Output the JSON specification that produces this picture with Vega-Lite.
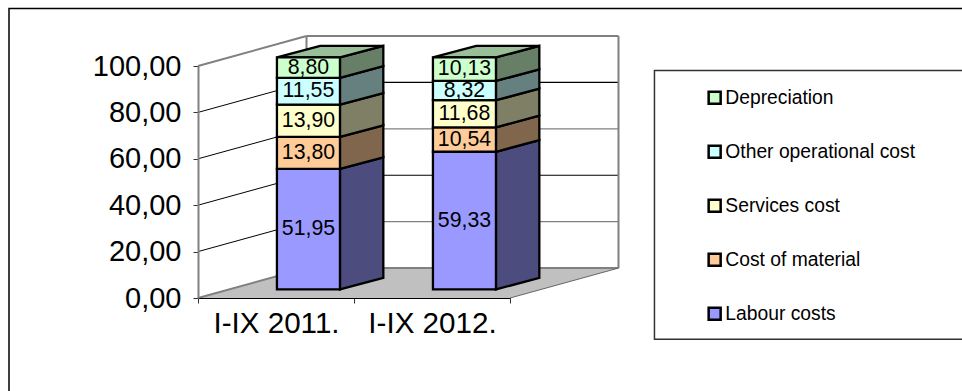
{
  "$schema": "https://vega.github.io/schema/vega-lite/v6.json",
  "width": 312,
  "height": 232,
  "autosize": {"type": "none"},
  "padding": {"left": 198, "top": 66, "right": 452, "bottom": 93},
  "background": "#ffffff",
  "params": [
    {"name": "dx", "value": 0.6955},
    {"name": "dy", "value": 12.9},
    {"name": "lift", "value": 3.7},
    {"name": "barLeft", "value": 0.506},
    {"name": "barRight", "value": 0.91},
    {"name": "barDepthX", "value": 0.278},
    {"name": "barDepthY", "value": 5}
  ],
  "config": {
    "view": {"stroke": null},
    "font": "Liberation Sans",
    "text": {"font": "Liberation Sans"}
  },
  "datasets": {
    "costs": [
      {"period": "I-IX 2011.", "cost": "Labour costs", "value": 51.95},
      {"period": "I-IX 2011.", "cost": "Cost of material", "value": 13.8},
      {"period": "I-IX 2011.", "cost": "Services cost", "value": 13.9},
      {"period": "I-IX 2011.", "cost": "Other operational cost", "value": 11.55},
      {"period": "I-IX 2011.", "cost": "Depreciation", "value": 8.8},
      {"period": "I-IX 2012.", "cost": "Labour costs", "value": 59.33},
      {"period": "I-IX 2012.", "cost": "Cost of material", "value": 10.54},
      {"period": "I-IX 2012.", "cost": "Services cost", "value": 11.68},
      {"period": "I-IX 2012.", "cost": "Other operational cost", "value": 8.32},
      {"period": "I-IX 2012.", "cost": "Depreciation", "value": 10.13}
    ],
    "levels": [
      {"level": 0}, {"level": 20}, {"level": 40}, {"level": 60}, {"level": 80}, {"level": 100}
    ]
  },
  "layer": [
    {
      "description": "Outer chart frame, running past the right and bottom of the window",
      "data": {"values": [{"part": "frame"}]},
      "mark": {"type": "rect", "filled": false, "stroke": "#000000", "strokeWidth": 1.5},
      "encoding": {
        "x": {"datum": -1.2115, "type": "quantitative", "scale": {"domain": [0, 2], "nice": false, "zero": false}},
        "x2": {"datum": 6},
        "y": {"datum": 124.8, "type": "quantitative", "scale": {"domain": [0, 100], "nice": false, "zero": false}},
        "y2": {"datum": -60}
      }
    },
    {
      "description": "Legend panel",
      "data": {"values": [{"part": "legend panel"}]},
      "mark": {"type": "rect", "fill": "#ffffff", "stroke": "#333333", "strokeWidth": 1.5},
      "encoding": {
        "x": {"datum": 2.926, "type": "quantitative", "scale": {"domain": [0, 2], "nice": false, "zero": false}},
        "x2": {"datum": 6},
        "y": {"datum": 98.06, "type": "quantitative", "scale": {"domain": [0, 100], "nice": false, "zero": false}},
        "y2": {"datum": -17.8}
      }
    },
    {
      "description": "Chart floor",
      "data": {"values": [{"edge": 0}, {"edge": 1}]},
      "transform": [
        {"calculate": "datum.edge * dx", "as": "x0"},
        {"calculate": "2 + datum.edge * dx", "as": "x1"},
        {"calculate": "datum.edge * dy", "as": "yy"}
      ],
      "mark": {"type": "area", "orient": "horizontal", "fill": "#c0c0c0"},
      "encoding": {
        "x": {"field": "x0", "type": "quantitative", "scale": {"domain": [0, 2], "nice": false, "zero": false}},
        "x2": {"field": "x1"},
        "y": {"field": "yy", "type": "quantitative", "scale": {"domain": [0, 100], "nice": false, "zero": false}}
      }
    },
    {
      "description": "Value gridlines receding along the side wall",
      "data": {"name": "levels"},
      "transform": [
        {"calculate": "0", "as": "x0"},
        {"calculate": "dx", "as": "x1"},
        {"calculate": "datum.level + dy", "as": "yBack"}
      ],
      "mark": {"type": "rule"},
      "encoding": {
        "x": {"field": "x0", "type": "quantitative", "scale": {"domain": [0, 2], "nice": false, "zero": false}},
        "x2": {"field": "x1"},
        "y": {"field": "level", "type": "quantitative", "scale": {"domain": [0, 100], "nice": false, "zero": false}},
        "y2": {"field": "yBack"},
        "stroke": {"condition": {"test": "datum.level % 100 === 0", "value": "#808080"}, "value": "#000000"},
        "strokeWidth": {"condition": {"test": "datum.level % 100 === 0", "value": 2}, "value": 1}
      }
    },
    {
      "description": "Value gridlines across the back wall; alternate lines print lighter",
      "data": {"name": "levels"},
      "transform": [
        {"calculate": "dx", "as": "x0"},
        {"calculate": "2 + dx", "as": "x1"},
        {"calculate": "datum.level + dy", "as": "yBack"}
      ],
      "mark": {"type": "rule"},
      "encoding": {
        "x": {"field": "x0", "type": "quantitative", "scale": {"domain": [0, 2], "nice": false, "zero": false}},
        "x2": {"field": "x1"},
        "y": {"field": "yBack", "type": "quantitative", "scale": {"domain": [0, 100], "nice": false, "zero": false}},
        "stroke": {"condition": {"test": "datum.level % 100 === 0 || datum.level % 40 === 20", "value": "#808080"}, "value": "#000000"},
        "strokeWidth": {"condition": {"test": "datum.level % 100 === 0", "value": 2}, "value": 1.2}
      }
    },
    {
      "description": "Vertical corners of the back wall",
      "data": {"values": [{"corner": 0}, {"corner": 1}]},
      "transform": [
        {"calculate": "dx + 2 * datum.corner", "as": "x0"},
        {"calculate": "dy", "as": "y0"},
        {"calculate": "100 + dy", "as": "y1"}
      ],
      "mark": {"type": "rule", "stroke": "#808080", "strokeWidth": 2},
      "encoding": {
        "x": {"field": "x0", "type": "quantitative", "scale": {"domain": [0, 2], "nice": false, "zero": false}},
        "y": {"field": "y0", "type": "quantitative", "scale": {"domain": [0, 100], "nice": false, "zero": false}},
        "y2": {"field": "y1"}
      }
    },
    {
      "description": "Right edge of the floor",
      "data": {"values": [{"part": "floor edge"}]},
      "transform": [
        {"calculate": "2", "as": "x0"},
        {"calculate": "2 + dx", "as": "x1"},
        {"calculate": "0", "as": "y0"},
        {"calculate": "dy", "as": "y1"}
      ],
      "mark": {"type": "rule", "stroke": "#666666", "strokeWidth": 1},
      "encoding": {
        "x": {"field": "x0", "type": "quantitative", "scale": {"domain": [0, 2], "nice": false, "zero": false}},
        "x2": {"field": "x1"},
        "y": {"field": "y0", "type": "quantitative", "scale": {"domain": [0, 100], "nice": false, "zero": false}},
        "y2": {"field": "y1"}
      }
    },
    {
      "description": "Side faces of the stacked segments",
      "data": {"name": "costs"},
      "transform": [
        {"calculate": "indexof(['Labour costs','Cost of material','Services cost','Other operational cost','Depreciation'], datum.cost)", "as": "rank"},
        {"stack": "value", "groupby": ["period"], "sort": [{"field": "rank"}], "as": ["s0", "s1"]},
        {"calculate": "indexof(['I-IX 2011.','I-IX 2012.'], datum.period)", "as": "slot"},
        {"calculate": "[0, 1]", "as": "d"},
        {"flatten": ["d"]},
        {"calculate": "datum.slot + barRight + datum.d * barDepthX", "as": "fx"},
        {"calculate": "datum.s0 + lift + datum.d * barDepthY", "as": "fy0"},
        {"calculate": "datum.s1 + lift + datum.d * barDepthY", "as": "fy1"}
      ],
      "layer": [
        {
          "mark": {"type": "area", "orient": "vertical", "stroke": "#000000", "strokeWidth": 2.3, "strokeJoin": "miter"},
          "encoding": {
            "x": {"field": "fx", "type": "quantitative", "scale": {"domain": [0, 2], "nice": false, "zero": false}},
            "y": {"field": "fy0", "type": "quantitative", "scale": {"domain": [0, 100], "nice": false, "zero": false}},
            "y2": {"field": "fy1"},
            "fill": {"field": "cost", "type": "nominal", "scale": {"domain": ["Depreciation", "Other operational cost", "Services cost", "Cost of material", "Labour costs"], "range": ["#ccffcc", "#ccffff", "#ffffcc", "#ffcc99", "#9999ff"]}},
            "detail": {"field": "period"}
          }
        },
        {
          "description": "Shade the side faces to half brightness",
          "mark": {"type": "area", "orient": "vertical", "fill": "#000000", "fillOpacity": 0.5},
          "encoding": {
            "x": {"field": "fx", "type": "quantitative", "scale": {"domain": [0, 2], "nice": false, "zero": false}},
            "y": {"field": "fy0", "type": "quantitative", "scale": {"domain": [0, 100], "nice": false, "zero": false}},
            "y2": {"field": "fy1"},
            "detail": [{"field": "period"}, {"field": "cost"}]
          }
        }
      ]
    },
    {
      "description": "Top cap of each column",
      "data": {"name": "costs"},
      "transform": [
        {"calculate": "indexof(['Labour costs','Cost of material','Services cost','Other operational cost','Depreciation'], datum.cost)", "as": "rank"},
        {"stack": "value", "groupby": ["period"], "sort": [{"field": "rank"}], "as": ["s0", "s1"]},
        {"filter": "datum.rank === 4"},
        {"calculate": "indexof(['I-IX 2011.','I-IX 2012.'], datum.period)", "as": "slot"},
        {"calculate": "[0, 1]", "as": "d"},
        {"flatten": ["d"]},
        {"calculate": "datum.slot + barLeft + datum.d * barDepthX", "as": "tx0"},
        {"calculate": "datum.slot + barRight + datum.d * barDepthX", "as": "tx1"},
        {"calculate": "datum.s1 + lift + datum.d * barDepthY", "as": "ty"}
      ],
      "layer": [
        {
          "mark": {"type": "area", "orient": "horizontal", "stroke": "#000000", "strokeWidth": 2.3, "strokeJoin": "miter"},
          "encoding": {
            "x": {"field": "tx0", "type": "quantitative", "scale": {"domain": [0, 2], "nice": false, "zero": false}},
            "x2": {"field": "tx1"},
            "y": {"field": "ty", "type": "quantitative", "scale": {"domain": [0, 100], "nice": false, "zero": false}},
            "fill": {"field": "cost", "type": "nominal", "scale": {"domain": ["Depreciation", "Other operational cost", "Services cost", "Cost of material", "Labour costs"], "range": ["#ccffcc", "#ccffff", "#ffffcc", "#ffcc99", "#9999ff"]}},
            "detail": {"field": "period"}
          }
        },
        {
          "description": "Shade the caps to three quarters brightness",
          "mark": {"type": "area", "orient": "horizontal", "fill": "#000000", "fillOpacity": 0.25},
          "encoding": {
            "x": {"field": "tx0", "type": "quantitative", "scale": {"domain": [0, 2], "nice": false, "zero": false}},
            "x2": {"field": "tx1"},
            "y": {"field": "ty", "type": "quantitative", "scale": {"domain": [0, 100], "nice": false, "zero": false}},
            "detail": {"field": "period"}
          }
        }
      ]
    },
    {
      "description": "Front faces of the stacked segments, their labels and the axes",
      "data": {"name": "costs"},
      "transform": [
        {"calculate": "indexof(['Labour costs','Cost of material','Services cost','Other operational cost','Depreciation'], datum.cost)", "as": "rank"},
        {"stack": "value", "groupby": ["period"], "sort": [{"field": "rank"}], "as": ["s0", "s1"]},
        {"calculate": "indexof(['I-IX 2011.','I-IX 2012.'], datum.period)", "as": "slot"},
        {"calculate": "datum.slot + barLeft", "as": "fx0"},
        {"calculate": "datum.slot + barRight", "as": "fx1"},
        {"calculate": "(datum.fx0 + datum.fx1) / 2", "as": "fxMid"},
        {"calculate": "datum.s0 + lift", "as": "fy0"},
        {"calculate": "datum.s1 + lift", "as": "fy1"},
        {"calculate": "(datum.fy0 + datum.fy1) / 2", "as": "fyMid"},
        {"calculate": "replace(format(datum.value, '.2f'), '.', ',')", "as": "label"}
      ],
      "layer": [
        {
          "mark": {"type": "rect", "stroke": "#000000", "strokeWidth": 2.3},
          "encoding": {
            "x": {
              "field": "fx0", "type": "quantitative", "title": null,
              "scale": {"domain": [0, 2], "nice": false, "zero": false},
              "axis": {
                "values": [0, 0.5, 1, 1.5, 2],
                "grid": false,
                "zindex": 1,
                "domainColor": "#000000",
                "domainWidth": 1,
                "tickColor": "#333333",
                "tickWidth": 1,
                "tickSize": 5,
                "tickOpacity": {"condition": {"test": "datum.value % 1 === 0", "value": 1}, "value": 0},
                "labelExpr": "datum.value === 0.5 ? 'I-IX 2011.' : datum.value === 1.5 ? 'I-IX 2012.' : ''",
                "labelFontSize": 29.6,
                "labelFont": "Liberation Sans",
                "labelColor": "#000000",
                "labelPadding": 6,
                "labelOverlap": false,
                "labelFlush": false
              }
            },
            "x2": {"field": "fx1"},
            "y": {
              "field": "fy0", "type": "quantitative", "title": null,
              "scale": {"domain": [0, 100], "nice": false, "zero": false},
              "axis": {
                "values": [0, 20, 40, 60, 80, 100],
                "grid": false,
                "zindex": 1,
                "domainColor": "#808080",
                "domainWidth": 2,
                "tickColor": "#333333",
                "tickWidth": 1,
                "tickSize": 5,
                "labelExpr": "replace(format(datum.value, '.2f'), '.', ',')",
                "labelFontSize": 29,
                "labelFont": "Liberation Sans",
                "labelColor": "#000000",
                "labelPadding": 12,
                "labelOverlap": false,
                "labelFlush": false
              }
            },
            "y2": {"field": "fy1"},
            "fill": {
              "field": "cost", "type": "nominal",
              "scale": {"domain": ["Depreciation", "Other operational cost", "Services cost", "Cost of material", "Labour costs"], "range": ["#ccffcc", "#ccffff", "#ffffcc", "#ffcc99", "#9999ff"]},
              "legend": {
                "title": null,
                "orient": "none",
                "legendX": 507,
                "legendY": 22,
                "padding": 0,
                "symbolType": "square",
                "symbolSize": 144,
                "symbolStrokeColor": "#000000",
                "symbolStrokeWidth": 2.5,
                "labelFontSize": 19.3,
                "labelFont": "Liberation Sans",
                "labelColor": "#000000",
                "labelLimit": 300,
                "labelOffset": 1,
                "rowPadding": 31
              }
            }
          }
        },
        {
          "mark": {"type": "text", "fontSize": 21.3, "font": "Liberation Sans", "color": "#000000", "align": "center", "baseline": "middle"},
          "encoding": {
            "x": {"field": "fxMid", "type": "quantitative", "scale": {"domain": [0, 2], "nice": false, "zero": false}},
            "y": {"field": "fyMid", "type": "quantitative", "scale": {"domain": [0, 100], "nice": false, "zero": false}},
            "text": {"field": "label"}
          }
        }
      ]
    }
  ]
}
